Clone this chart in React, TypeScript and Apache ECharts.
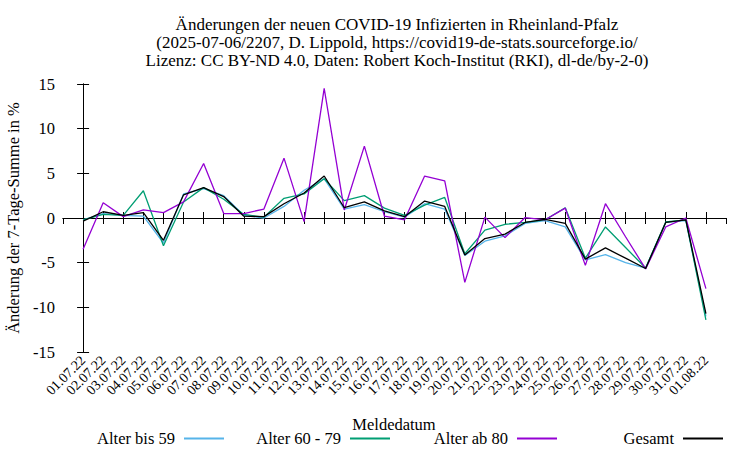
import React, { useEffect, useRef } from "react";
import * as echarts from "echarts";

const dates = [
  "01.07.22", "02.07.22", "03.07.22", "04.07.22", "05.07.22", "06.07.22", "07.07.22", "08.07.22",
  "09.07.22", "10.07.22", "11.07.22", "12.07.22", "13.07.22", "14.07.22", "15.07.22", "16.07.22",
  "17.07.22", "18.07.22", "19.07.22", "20.07.22", "21.07.22", "22.07.22", "23.07.22", "24.07.22",
  "25.07.22", "26.07.22", "27.07.22", "28.07.22", "29.07.22", "30.07.22", "31.07.22", "01.08.22",
];

const bis59 = [-0.2, 0.5, 0.3, 0.2, -2.8, 2.7, 3.3, 2.5, 0.3, 0.0, 1.3, 3.1, 4.4, 1.0, 1.5, 0.7, 0.1, 1.6, 1.0, -4.2, -2.6, -2.0, -0.6, -0.3, -1.0, -4.7, -4.1, -5.0, -5.6, -0.5, -0.3, -11.0];
const von60bis79 = [-0.2, 0.4, 0.3, 3.05, -3.1, 1.8, 3.4, 2.1, 0.4, 0.1, 2.2, 2.7, 4.4, 1.95, 2.5, 1.1, 0.3, 1.45, 2.3, -4.0, -1.35, -0.7, -0.5, -0.2, 1.15, -4.5, -1.0, -3.3, -5.6, -0.45, -0.2, -11.4];
const ab80 = [-3.5, 1.7, 0.15, 0.9, 0.6, 1.8, 6.1, 0.5, 0.5, 1.0, 6.7, -0.4, 14.5, 0.9, 8.05, 0.2, -0.2, 4.7, 4.15, -7.2, 0.1, -2.2, 0.05, -0.2, 1.1, -5.3, 1.6, -2.1, -5.7, -1.0, 0.0, -7.9];
const gesamt = [-0.35, 0.7, 0.3, 0.6, -2.5, 2.6, 3.4, 2.4, 0.2, 0.15, 1.6, 2.8, 4.7, 1.15, 1.8, 0.8, 0.15, 1.9, 1.3, -4.15, -2.3, -1.8, -0.5, -0.15, -0.6, -4.6, -3.35, -4.5, -5.65, -0.5, -0.2, -10.7];

const seriesNames = ["Alter bis 59", "Alter 60 - 79", "Alter ab 80", "Gesamt"];
const seriesValues = [bis59, von60bis79, ab80, gesamt];
const seriesColors = ["#56b4e9", "#009e73", "#9400d3", "#000000"];

const titleLines = [
  "Änderungen der neuen COVID-19 Infizierten in Rheinland-Pfalz",
  "(2025-07-06/2207, D. Lippold, https://covid19-de-stats.sourceforge.io/",
  "Lizenz: CC BY-ND 4.0, Daten: Robert Koch-Institut (RKI), dl-de/by-2-0)",
];
const yAxisName = "Änderung der 7-Tage-Summe in %";
const xAxisName = "Meldedatum";

const FONT = "'Liberation Serif', 'Times New Roman', serif";
const FS = 16.5;

export default function App() {
  const ref = useRef<HTMLDivElement>(null);
  useEffect(() => {
    document.body.style.margin = "0";
    if (!ref.current) return;
    const chart = echarts.init(ref.current, undefined, { renderer: "svg" });
    const legendRights = [526, 360, 193, 27];
    const axisCommon = {
      axisLine: { show: true, lineStyle: { color: "#000", width: 1 } },
      axisTick: { show: true, inside: true, length: 6, lineStyle: { color: "#000" } },
      splitLine: { show: false },
    };
    chart.setOption({
      animation: false,
      backgroundColor: "#fff",
      textStyle: { fontFamily: FONT },
      graphic: [
        {
          type: "text",
          x: 397,
          y: 15,
          style: {
            text: titleLines.join("\n"),
            textAlign: "center",
            textVerticalAlign: "top",
            font: `17px ${FONT}`,
            lineHeight: 18,
            fill: "#000",
          },
        },
        {
          type: "text",
          x: 394,
          y: 424,
          style: {
            text: xAxisName,
            textAlign: "center",
            textVerticalAlign: "middle",
            font: `${FS}px ${FONT}`,
            fill: "#000",
          },
        },
      ],
      legend: seriesNames.map((n, i) => ({
        data: [n],
        right: legendRights[i],
        top: 430,
        align: "right",
        icon: "rect",
        itemWidth: 40,
        itemHeight: 2,
        padding: 0,
        textStyle: { fontFamily: FONT, fontSize: FS, color: "#000", padding: [0, 4, 0, 0] },
      })),
      grid: { left: 63, right: 24, top: 84, bottom: 98, outerBoundsMode: "none", containLabel: false },
      xAxis: [
        {
          type: "value",
          min: -1,
          max: dates.length,
          interval: 1,
          position: "bottom",
          ...axisCommon,
          axisLabel: {
            rotate: 45,
            margin: 6,
            fontFamily: FONT,
            fontSize: 14,
            color: "#000",
            showMinLabel: false,
            showMaxLabel: false,
            formatter: (v: number) => (v >= 0 && v < dates.length ? dates[v] : ""),
          },
        },
        {
          type: "value",
          min: -1,
          max: dates.length,
          interval: 1,
          position: "top",
          ...axisCommon,
          axisLabel: { show: false },
        },
      ],
      yAxis: [
        {
          type: "value",
          min: -15,
          max: 15,
          interval: 5,
          position: "left",
          name: yAxisName,
          nameLocation: "middle",
          nameGap: 40,
          nameTextStyle: { fontFamily: FONT, fontSize: FS, color: "#000" },
          ...axisCommon,
          axisLabel: { margin: 8, fontFamily: FONT, fontSize: FS, color: "#000" },
        },
        {
          type: "value",
          min: -15,
          max: 15,
          interval: 5,
          position: "right",
          ...axisCommon,
          axisLabel: { show: false },
        },
      ],
      series: seriesNames.map((n, i) => ({
        name: n,
        type: "line",
        showSymbol: false,
        symbol: "none",
        color: seriesColors[i],
        lineStyle: { width: 1.3, color: seriesColors[i] },
        data: seriesValues[i].map((v, j) => [j, v]),
      })),
    });
    return () => chart.dispose();
  }, []);
  return <div ref={ref} style={{ width: 750, height: 450 }} />;
}
